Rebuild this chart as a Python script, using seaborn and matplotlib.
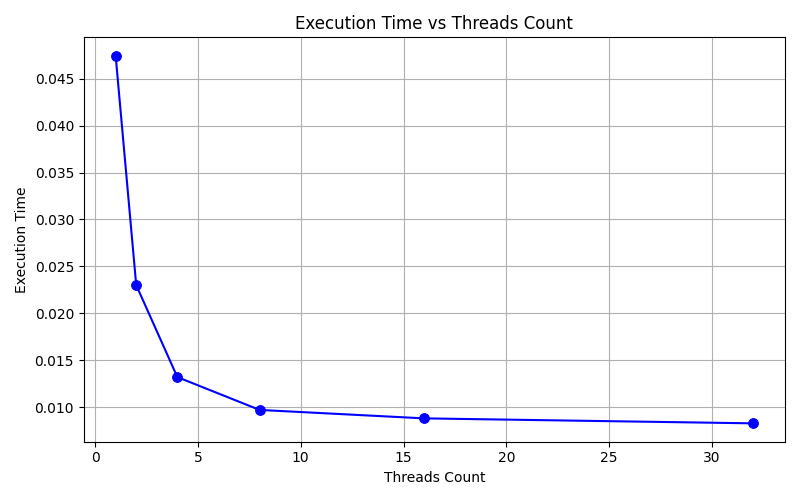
import matplotlib
matplotlib.use("Agg")
import matplotlib.pyplot as plt
import seaborn as sns
import pandas as pd

threads = [1, 2, 4, 8, 16, 32]
exec_time = [0.04745, 0.0230, 0.0132, 0.0097, 0.0088, 0.00827]

df = pd.DataFrame({"Threads Count": threads, "Execution Time": exec_time})

fig, ax = plt.subplots(figsize=(8, 5), dpi=100)
sns.lineplot(data=df, x="Threads Count", y="Execution Time", marker="o",
             color="blue", markersize=7, markeredgecolor="blue", ax=ax)
ax.set_title("Execution Time vs Threads Count")
ax.set_xlabel("Threads Count")
ax.set_ylabel("Execution Time")
ax.grid(True)
plt.tight_layout()
plt.savefig("out.png", dpi=100)
plt.close()
